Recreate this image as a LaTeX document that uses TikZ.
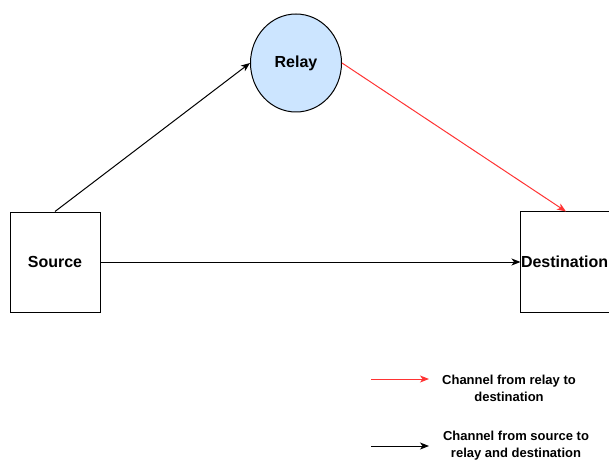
\documentclass[tikz,border=0pt]{standalone}
\usepackage{fontspec}
\setmainfont{Liberation Sans}
\usetikzlibrary{arrows.meta,shapes.geometric}
\definecolor{relayfill}{HTML}{CCE5FF}
\definecolor{linkred}{HTML}{FF3333}
\tikzset{
  every picture/.style={line width=1pt},
  box/.style={draw=black, rectangle, minimum width=90pt, minimum height=100pt,
    inner sep=0pt, font=\fontsize{16}{19}\selectfont\bfseries},
  relaynode/.style={draw=black, ellipse, fill=relayfill, minimum width=91pt,
    minimum height=98pt, inner sep=0pt, font=\fontsize{16}{19}\selectfont\bfseries},
  chan/.style={-{Stealth[length=9pt,width=7pt,inset=2.5pt]}},
  redchan/.style={draw=linkred, -{Stealth[length=9pt,width=7pt,inset=2.5pt,fill=linkred]}},
  legendtext/.style={align=center, inner sep=0pt,
    font=\fontsize{13}{17}\selectfont\bfseries}
}
\begin{document}
\begin{tikzpicture}[x=1pt,y=-1pt]
  \useasboundingbox (0,0) rectangle (609,462);

  % nodes of the relay network
  \node[box] (src) at (55,262) {Source};
  % the destination box runs past the right border, so only three sides show
  \node[box, draw=none, minimum width=100pt, text width=100pt, align=flush left]
    (dst) at (571,262) {Destination};
  \draw (dst.north east) -- (dst.north west) -- (dst.south west) -- (dst.south east);
  \node[relaynode] (relay) at (296,63) {Relay};

  % channels
  \draw[chan] (src.north) -- (relay.west);
  \draw[redchan] (relay.east) -- ([xshift=-5pt]dst.north);
  \draw[chan] (src.east) -- (dst.west);

  % legend
  \coordinate (l1a) at (371,379);
  \coordinate (l1b) at (429,379);
  \coordinate (l2a) at (371,446);
  \coordinate (l2b) at (429,446);
  \draw[redchan] (l1a) -- (l1b);
  \draw[chan] (l2a) -- (l2b);
  \node[legendtext] (leg1) at (509,388) {Channel from relay to\\destination};
  \node[legendtext] (leg2) at (516,446) {Channel from source to\\relay and destination};
\end{tikzpicture}
\end{document}
